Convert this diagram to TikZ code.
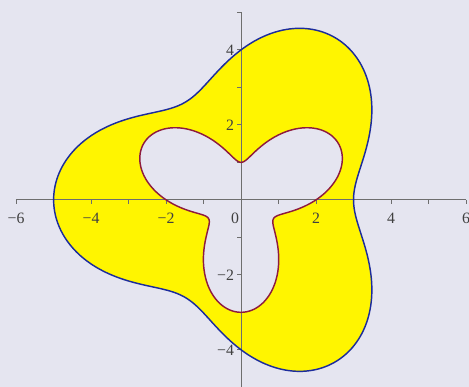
\documentclass[tikz,border=0pt]{standalone}
\usepackage{fontspec}
\setmainfont{Liberation Serif}
\definecolor{bgc}{HTML}{E5E5F0}
\definecolor{fillc}{HTML}{FFF500}
\definecolor{outc}{HTML}{1C2C9C}
\definecolor{inc}{HTML}{8E1B3E}
\definecolor{axc}{HTML}{6E6E6E}
\definecolor{labc}{HTML}{404040}
\tikzset{
  axisline/.style={draw=axc, line width=0.8pt},
  tickline/.style={draw=axc, line width=0.7pt},
  ticklab/.style={text=labc, inner sep=0pt, font=\fontsize{12}{14}\selectfont},
  outcurve/.style={draw=outc, line width=1.1pt},
  incurve/.style={draw=inc, line width=1.1pt},
}
\begin{document}
\begin{tikzpicture}
\fill[bgc] (-6.43,-4.99) rectangle (6.08,5.33);
\useasboundingbox (-6.43,-4.99) rectangle (6.08,5.33);
% filled region
\fill[fillc, even odd rule]
  plot[domain=0:360, samples=360, smooth cycle, variable=\t] ({(4-cos(3*\t))*cos(\t)}, {(4-cos(3*\t))*sin(\t)})
  plot[domain=0:360, samples=360, smooth cycle, variable=\t] ({(2+sin(3*\t))*cos(\t)}, {(2+sin(3*\t))*sin(\t)});
% axes
\coordinate (xl) at (-6,0);
\coordinate (xr) at (6,0);
\coordinate (yb) at (0,-5);
\coordinate (yt) at (0,5);
\draw[axisline] (xl) -- (xr);
\draw[axisline] (yb) -- (yt);
\foreach \x in {-6,...,6} {
  \coordinate (tx\x) at (\x,0);
  \draw[tickline] (tx\x) -- ++(0,-0.11);
}
\foreach \y in {-5,...,5} {
  \coordinate (ty\y) at (0,\y);
  \draw[tickline] (ty\y) -- ++(-0.12,0);
}
% curves
\draw[outcurve] plot[domain=0:360, samples=360, smooth cycle, variable=\t] ({(4-cos(3*\t))*cos(\t)}, {(4-cos(3*\t))*sin(\t)});
\draw[incurve] plot[domain=0:360, samples=360, smooth cycle, variable=\t] ({(2+sin(3*\t))*cos(\t)}, {(2+sin(3*\t))*sin(\t)});
% labels
\node[ticklab, anchor=base] (lxm6) at (-6,-0.63) {−6};
\node[ticklab, anchor=base] (lxm4) at (-4,-0.63) {−4};
\node[ticklab, anchor=base] (lxm2) at (-2,-0.63) {−2};
\node[ticklab, anchor=base] (lx0) at (-0.16,-0.63) {0};
\node[ticklab, anchor=base] (lx2) at (2,-0.63) {2};
\node[ticklab, anchor=base] (lx4) at (4,-0.63) {4};
\node[ticklab, anchor=base] (lx6) at (6,-0.63) {6};
\node[ticklab, anchor=base east] (ly4) at (-0.18,3.853) {4};
\node[ticklab, anchor=base east] (ly2) at (-0.18,1.853) {2};
\node[ticklab, anchor=base east] (lym2) at (-0.18,-2.147) {−2};
\node[ticklab, anchor=base east] (lym4) at (-0.18,-4.147) {−4};
\end{tikzpicture}
\end{document}
